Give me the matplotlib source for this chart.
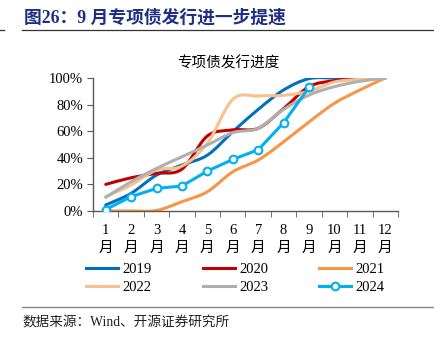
import matplotlib.pyplot as plt
import numpy as np
from matplotlib.lines import Line2D
from matplotlib.patches import PathPatch
from matplotlib.path import Path

plt.rcParams['font.family'] = ['Liberation Serif', 'Noto Sans CJK SC']

months = [f"{m}\n月" for m in range(1, 13)]
y2019 = [4.5, 13.3, 27, 34.6, 42, 59.6, 76.4, 91, 99.5, 100, 100, 100]
y2020 = [20, 25, 28.3, 31.5, 56.4, 61, 62.2, 77, 93.5, 98, 99.5, 100]
y2021 = [0, 0, 0.4, 7, 14.5, 29.5, 38.3, 52, 67, 81, 91, 100]
y2022 = [10.8, 19.5, 30.8, 33.8, 50.9, 84, 86.5, 87, 90, 97, 99, 100]
y2023 = [10.3, 22, 32, 40.8, 49.6, 58.9, 62.2, 76.4, 87.2, 93.5, 97.5, 100]
y2024 = [1.1, 10.8, 17, 18.8, 30, 38.8, 46, 66.4, 93]

series = [
    ("2019", y2019, "#0070C0"),
    ("2020", y2020, "#C00000"),
    ("2021", y2021, "#F79646"),
    ("2022", y2022, "#FAC090"),
    ("2023", y2023, "#AFAFAF"),
]


def smooth_path(xs, ys):
    # cubic bezier through the points, like spreadsheet "smoothed line"
    pts = np.column_stack([xs, ys]).astype(float)
    n = len(pts)
    verts = [pts[0]]
    codes = [Path.MOVETO]
    for i in range(n - 1):
        p0 = pts[i - 1] if i > 0 else pts[i]
        p1, p2 = pts[i], pts[i + 1]
        p3 = pts[i + 2] if i + 2 < n else pts[i + 1]
        c1 = p1 + (p2 - p0) / 6
        c2 = p2 - (p3 - p1) / 6
        verts += [c1, c2, p2]
        codes += [Path.CURVE4] * 3
    return Path(verts, codes)


fig = plt.figure(figsize=(4.35, 3.41), dpi=100)
ax = fig.add_axes([93 / 435, 1 - 211 / 341, 305 / 435, 133 / 341])

x = np.arange(12)
handles = []
for name, ys, color in series:
    ax.add_patch(PathPatch(smooth_path(x, ys), fill=False, edgecolor=color,
                           lw=2.2, capstyle='round', zorder=2))
    handles.append(Line2D([], [], color=color, lw=2.2, label=name))

h24, = ax.plot(x[:len(y2024)], y2024, color="#00B0F0", lw=2.2, marker='o',
               ms=5.5, mfc='white', mec="#00B0F0", mew=1.5, zorder=3, label="2024")
handles.append(h24)

ax.set_xlim(-0.5, 11.5)
ax.set_ylim(0, 100)
ax.set_yticks(np.arange(0, 101, 20))
ax.set_yticklabels([f"{v}%" for v in range(0, 101, 20)], fontsize=10.5)
ax.set_xticks(x)
ax.set_xticklabels(months, fontsize=10.5, linespacing=1.55)
ax.set_xticks(np.arange(-0.5, 12, 1), minor=True)
ax.tick_params(axis='x', which='major', length=0, pad=9)
ax.tick_params(axis='x', which='minor', length=4, direction='out', color='#595959')
ax.tick_params(axis='y', length=4, direction='out', color='#595959', pad=3)
for s in ['top', 'right']:
    ax.spines[s].set_visible(False)
for s in ['left', 'bottom']:
    ax.spines[s].set_color('#595959')
    ax.spines[s].set_linewidth(1.0)

fig.text(228 / 435, 1 - 63 / 341, "专项债发行进度", fontsize=10.5, ha='center', va='center')

# legend filled row by row: 2019 2020 2021 / 2022 2023 2024
order = [0, 3, 1, 4, 2, 5]
fig.legend(handles=[handles[i] for i in order], ncol=3, loc='upper left',
           bbox_to_anchor=(80 / 435, 1 - 257 / 341), frameon=False, fontsize=10.5,
           handlelength=2.2, handletextpad=0.3, columnspacing=3.5,
           labelspacing=0.35, borderaxespad=0)

# header and footer
fig.text(24 / 435, 1 - 18 / 341, "图26：9 月专项债发行进一步提速", fontsize=12.8,
         fontweight='bold', color='#1F2F86', va='center', ha='left')
fig.add_artist(Line2D([22 / 435, 1], [1 - 30 / 341] * 2, color='#333333', lw=0.9))
fig.add_artist(Line2D([0, 4 / 435], [1 - 30 / 341] * 2, color='#333333', lw=0.9))
fig.add_artist(Line2D([22 / 435, 433 / 435], [1 - 307 / 341] * 2, color='#888888', lw=1.0))
fig.text(22 / 435, 1 - 323 / 341, "数据来源：Wind、开源证券研究所", fontsize=9.8,
         va='center', ha='left', color='#222222')

fig.savefig("out.png", dpi=100)
